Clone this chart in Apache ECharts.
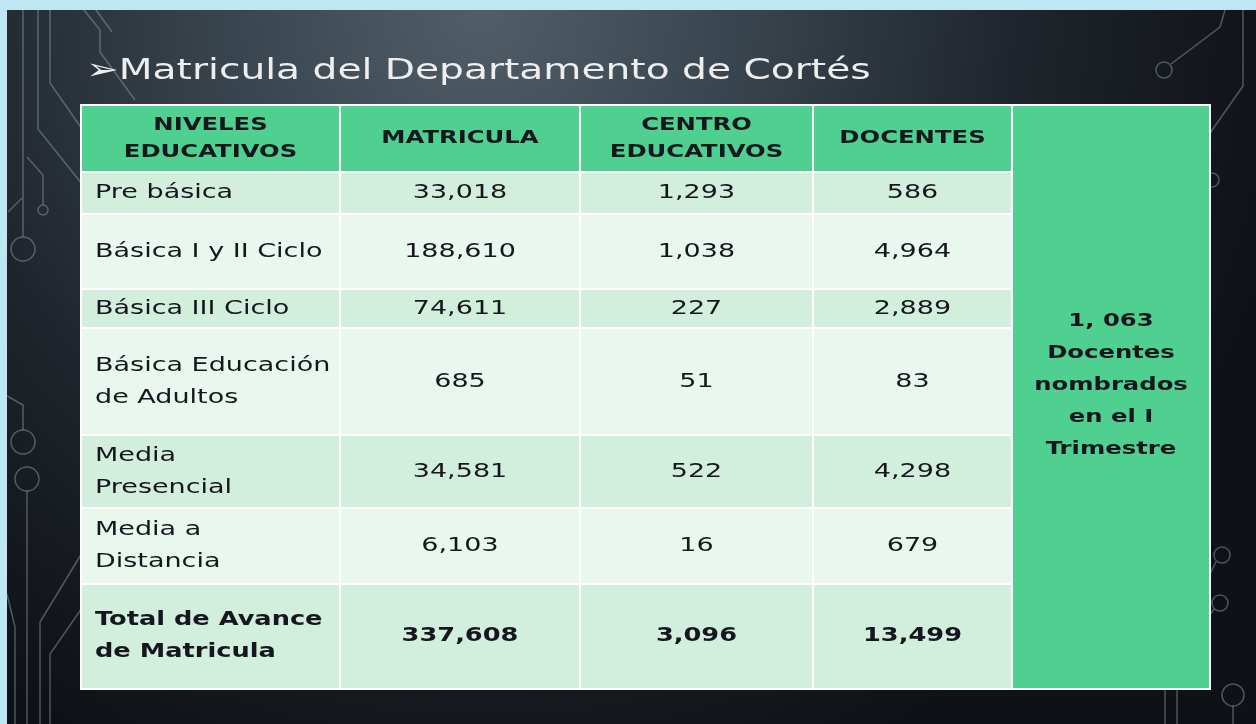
<!DOCTYPE html>
<html>
<head>
<meta charset="utf-8">
<script src="https://cdn.jsdelivr.net/npm/echarts@6/dist/echarts.min.js"></script>
<style>
  html, body { margin: 0; padding: 0; background: #bfe7f2; }
  #chart { width: 1256px; height: 724px; }
</style>
</head>
<body>
<div id="chart"></div>
<script>
// datos de la tabla
const titulo = '➢Matricula del Departamento de Cortés'
const encabezados = ['NIVELES\nEDUCATIVOS', 'MATRICULA', 'CENTRO\nEDUCATIVOS', 'DOCENTES']
const niveles = ['Pre básica', 'Básica I y II Ciclo', 'Básica III Ciclo', 'Básica Educación\nde Adultos', 'Media\nPresencial', 'Media a\nDistancia', 'Total de Avance\nde Matricula']
const matricula = [33018, 188610, 74611, 685, 34581, 6103, 337608]
const centros = [1293, 1038, 227, 51, 522, 16, 3096]
const docentes = [586, 4964, 2889, 83, 4298, 679, 13499]
const nota = '1, 063\nDocentes\nnombrados\nen el I\nTrimestre'

// layout (px dentro del grid)
const colEdges = [0, 259, 499, 732, 931, 1129]
const rowEdges = [0, 67, 109, 184, 223, 330, 403, 479, 584]
const verde = '#50d090'
const claro1 = '#d2eedc'
const claro2 = '#eaf7ee'
const estirar = 1.35 // la fuente original es muy ancha

const estilos = {
  head: { font: 'bold 18px "DejaVu Sans"', align: 'center', lh: 27 },
  bodyL: { font: '20px "DejaVu Sans"', align: 'left', lh: 32 },
  bodyC: { font: '20px "DejaVu Sans"', align: 'center', lh: 32 },
  totalL: { font: 'bold 19px "DejaVu Sans"', align: 'left', lh: 32 },
  totalC: { font: 'bold 19px "DejaVu Sans"', align: 'center', lh: 32 },
  nota: { font: 'bold 18px "DejaVu Sans"', align: 'center', lh: 32, dy: -12 }
}

const cells = []
encabezados.forEach((t, c) => {
  cells.push({ value: [colEdges[c], rowEdges[0], colEdges[c + 1], rowEdges[1]], text: t, kind: 'head', fill: verde })
})
niveles.forEach((nivel, i) => {
  const r = i + 1
  const total = i === niveles.length - 1
  const fill = i % 2 ? claro2 : claro1
  const fila = [nivel, matricula[i], centros[i], docentes[i]]
  fila.forEach((v, c) => {
    cells.push({
      value: [colEdges[c], rowEdges[r], colEdges[c + 1], rowEdges[r + 1]],
      text: typeof v === 'number' ? v.toLocaleString('en-US') : v,
      kind: (total ? 'total' : 'body') + (c === 0 ? 'L' : 'C'),
      fill: fill
    })
  })
})
cells.push({ value: [colEdges[4], rowEdges[0], colEdges[5], rowEdges[rowEdges.length - 1]], text: nota, kind: 'nota', fill: verde })

function renderCell (params, api) {
  const cell = cells[params.dataIndex]
  const st = estilos[cell.kind]
  const p0 = api.coord([api.value(0), api.value(1)])
  const p1 = api.coord([api.value(2), api.value(3)])
  const w = p1[0] - p0[0]
  const h = p1[1] - p0[1]
  return {
    type: 'group',
    children: [
      {
        type: 'rect',
        shape: { x: p0[0], y: p0[1], width: w, height: h },
        style: { fill: cell.fill, stroke: '#ffffff', lineWidth: 2 }
      },
      {
        type: 'text',
        x: st.align === 'left' ? p0[0] + 14 : p0[0] + w / 2,
        y: p0[1] + h / 2 + (st.dy || 0),
        scaleX: estirar,
        style: {
          text: cell.text,
          fill: '#16161e',
          font: st.font,
          align: st.align,
          verticalAlign: 'middle',
          lineHeight: st.lh
        }
      }
    ]
  }
}

// lineas de circuito del fondo
const lineaCircuito = { stroke: 'rgba(150,168,180,0.45)', lineWidth: 1.5, fill: 'none' }
const trazos = [
  [[23, 10], [23, 237]],
  [[38, 10], [38, 129], [82, 184]],
  [[50, 10], [50, 83], [82, 129]],
  [[27, 157], [43, 175], [43, 205]],
  [[8, 212], [22, 198]],
  [[7, 396], [23, 405], [23, 430]],
  [[27, 491], [27, 724]],
  [[7, 594], [15, 627], [15, 724]],
  [[82, 553], [40, 622], [40, 724]],
  [[82, 608], [50, 654], [50, 724]],
  [[84, 10], [100, 30], [100, 52], [135, 100]],
  [[96, 10], [112, 32]],
  [[1225, 10], [1220, 27], [1171, 64]],
  [[1243, 10], [1243, 86], [1208, 136]],
  [[1216, 562], [1208, 578]],
  [[1214, 609], [1208, 618]],
  [[1165, 689], [1165, 724]],
  [[1177, 689], [1177, 724]],
  [[1233, 706], [1233, 724]]
]
const circulos = [[23, 249, 12], [43, 210, 5], [23, 442, 12], [27, 479, 12], [1164, 70, 8], [1212, 180, 7], [1222, 555, 8], [1220, 603, 8], [1233, 695, 11]]

const graficos = [
  {
    type: 'rect', left: 7, top: 10, z: -10,
    shape: { width: 1249, height: 714 },
    style: {
      fill: new echarts.graphic.RadialGradient(0.38, 0.0, 1.15, [
        { offset: 0, color: '#515e68' },
        { offset: 0.3, color: '#3a464f' },
        { offset: 0.65, color: '#1f252c' },
        { offset: 1, color: '#0e1115' }
      ])
    }
  }
]
trazos.forEach(p => graficos.push({ type: 'polyline', z: -5, shape: { points: p }, style: lineaCircuito }))
circulos.forEach(c => graficos.push({ type: 'circle', z: -5, shape: { cx: c[0], cy: c[1], r: c[2] }, style: lineaCircuito }))
graficos.push({
  type: 'text', x: 86, y: 71, z: 10, scaleX: estirar,
  style: { text: titulo, fill: '#eeeeee', font: '29px "DejaVu Sans"', align: 'left', verticalAlign: 'middle' }
})

const chart = echarts.init(document.getElementById('chart'))
chart.setOption({
  backgroundColor: '#bfe7f2',
  animation: false,
  graphic: { elements: graficos },
  grid: { left: 81, top: 105, width: 1129, height: 584 },
  xAxis: { type: 'value', min: 0, max: colEdges[colEdges.length - 1], show: false },
  yAxis: { type: 'value', min: 0, max: rowEdges[rowEdges.length - 1], inverse: true, show: false },
  series: [{
    type: 'custom',
    coordinateSystem: 'cartesian2d',
    silent: true,
    renderItem: renderCell,
    encode: { x: [0, 2], y: [1, 3] },
    data: cells.map(c => c.value),
    z: 5
  }]
})
</script>
</body>
</html>
